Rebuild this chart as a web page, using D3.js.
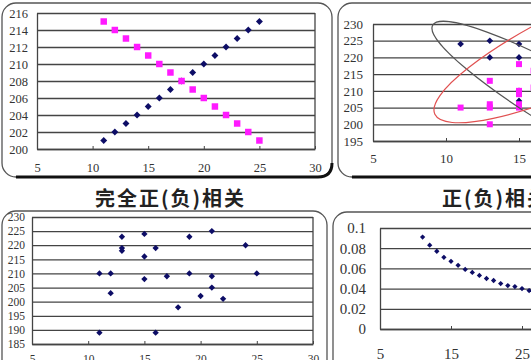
<!DOCTYPE html>
<html><head><meta charset="utf-8">
<script src="https://cdn.jsdelivr.net/npm/d3@7"></script>
<style>html,body{margin:0;padding:0;background:#fff;overflow:hidden}</style>
</head><body>
<svg id="c" width="531" height="360"></svg>
<script>
// ---------- data ----------
const perfectX   = [11,12,13,14,15,16,17,18,19,20,21,22,23,24,25];
const perfectPos = [201,202,203,204,205,206,207,208,209,210,211,212,213,214,215];
const perfectNeg = [215,214,213,212,211,210,209,208,207,206,205,204,203,202,201];
const perfectYTicks = [200,202,204,206,208,210,212,214,216];
const xTicks5 = [5,10,15,20,25,30];

const partBlueX = [11,13,13,15,15,15,15];
const partBlueY = [224,225,220,224,220,210,207];
const partPinkX = [11,13,13,13,13,15,15,15,15,15,16,16];
const partPinkY = [205,213,206,205,200,218,210,209,206,205,216,211];
const partYTicks = [195,200,205,210,215,220,225,230];
const partXTicks = [5,10,15];          // labels visible inside the cropped view

const noneX = [13,13,13,15,19,21,24,16,15,11,12,15,17,19,21,25,21,12,20,22,18,11,16];
const noneY = [223,219,218,224,223,225,220,219,216,210,210,208,209,210,209,210,205,203,202,201,198,189,189];
const noneYTicks = [185,190,195,200,205,210,215,220,225,230];

const curveX = [11,12,13,14,15,16,17,18,19,20,21,22,23,24,25,26,27,28,29,30];
const curveY = [0.091,0.083,0.077,0.071,0.067,0.063,0.059,0.056,0.053,0.050,0.048,0.045,0.043,0.042,0.040,0.038,0.037,0.036,0.034,0.033];
const curveYTicks = [0,0.02,0.04,0.06,0.08,0.1];
const curveXTicks = [5,15,25];

const titleLeft = "完全正(负)相关";
const titleRight = "正(负)相关";

// ---------- drawing ----------
const svg = d3.select("#c");
const NAVY = "#0d0d66", PINK = "#ff1aff";

function panel(x, y, w, h, r) {
  svg.append("rect").attr("x", x).attr("y", y).attr("width", w).attr("height", h)
    .attr("rx", r).attr("fill", "#fff").attr("stroke", "#555").attr("stroke-width", 1.3);
  svg.append("path")
    .attr("d", `M${x + r},${y + h} L${x + w - r},${y + h} Q${x + w},${y + h} ${x + w},${y + h - r}`)
    .attr("fill", "none").attr("stroke", "#111").attr("stroke-width", 3);
}
panel(2, 3, 330, 174, 14);
panel(338, 3, 260, 174, 14);
panel(2, 211, 325, 200, 14);
panel(333, 212, 260, 200, 14);

function chart(o) {
  const g = svg.append("g");
  const x = d3.scaleLinear().domain(o.xd).range(o.xr);
  const y = d3.scaleLinear().domain(o.yd).range(o.yr);
  const w = o.xr[1] - o.xr[0];
  const ya = g.append("g").attr("transform", `translate(${o.xr[0]},0)`)
    .call(d3.axisLeft(y).tickValues(o.yt).tickSizeInner(-w).tickSizeOuter(0)
      .tickPadding(o.ypad).tickFormat(o.yf || (d => d)));
  ya.select(".domain").attr("stroke", "#444").attr("stroke-width", 1.3);
  ya.selectAll(".tick line").attr("stroke", "#444").attr("stroke-width", 1.3);
  ya.selectAll("text").attr("font-family", "Liberation Serif").attr("font-size", o.fs)
    .attr("fill", "#333");
  g.append("line").attr("x1", o.xr[1]).attr("x2", o.xr[1]).attr("y1", o.yr[0]).attr("y2", o.yr[1])
    .attr("stroke", "#444").attr("stroke-width", 1.3);
  const xa = g.append("g").attr("transform", `translate(0,${o.yr[0]})`)
    .call(d3.axisBottom(x).tickValues(o.xt).tickSizeInner(-3).tickSizeOuter(0).tickPadding(o.xpad));
  xa.select(".domain").attr("stroke", "#444").attr("stroke-width", 1.3);
  xa.selectAll(".tick line").attr("stroke", "#444");
  xa.selectAll("text").attr("font-family", "Liberation Serif").attr("font-size", o.fs)
    .attr("fill", "#333");
  return {g, x, y};
}

function diamonds(c, xs, ys, size, color) {
  c.g.append("g").selectAll("path").data(xs).join("path")
    .attr("d", d3.symbol(d3.symbolSquare, size))
    .attr("transform", (d, i) => `translate(${c.x(d)},${c.y(ys[i])}) rotate(45)`)
    .attr("fill", color);
}
function squares(c, xs, ys, size, color) {
  c.g.append("g").selectAll("path").data(xs).join("path")
    .attr("d", d3.symbol(d3.symbolSquare, size))
    .attr("transform", (d, i) => `translate(${c.x(d)},${c.y(ys[i])})`)
    .attr("fill", color);
}

// top-left: perfect correlation
const c1 = chart({xd:[5,30], xr:[37,315], yd:[200,216], yr:[149,13], yt:perfectYTicks, xt:xTicks5,
  fs:12.5, ypad:9, xpad:14});
diamonds(c1, perfectX, perfectPos, 24, NAVY);
squares(c1, perfectX, perfectNeg, 42, PINK);

// top-right: partial correlation
const c2 = chart({xd:[5,30], xr:[373,738], yd:[195,230], yr:[141,24], yt:partYTicks, xt:partXTicks,
  fs:13, ypad:10, xpad:13});
diamonds(c2, partBlueX, partBlueY, 22, NAVY);
squares(c2, partPinkX, partPinkY, 36, PINK);
c2.g.append("ellipse").attr("cx", 0).attr("cy", 0).attr("rx", 175).attr("ry", 30)
  .attr("transform", `translate(${c2.x(19.47)},${c2.y(203.5)}) rotate(30)`)
  .attr("fill", "none").attr("stroke", "#555").attr("stroke-width", 1.2);
c2.g.append("ellipse").attr("cx", 0).attr("cy", 0).attr("rx", 175).attr("ry", 40)
  .attr("transform", `translate(${c2.x(20.1)},${c2.y(225.1)}) rotate(-25)`)
  .attr("fill", "none").attr("stroke", "#e05050").attr("stroke-width", 1.2);

// bottom-left: no correlation
const c3 = chart({xd:[5,30], xr:[32,313], yd:[185,230], yr:[344,217], yt:noneYTicks, xt:xTicks5,
  fs:11.5, ypad:7, xpad:11});
diamonds(c3, noneX, noneY, 20, NAVY);

// bottom-right: curve
const c4 = chart({xd:[5,35], xr:[380,593], yd:[0,0.1], yr:[329,228], yt:curveYTicks, xt:curveXTicks,
  fs:15, ypad:14, xpad:19, yf: d => d === 0 ? "0" : String(+d.toFixed(2))});
diamonds(c4, curveX, curveY, 14, NAVY);

// titles
svg.append("text").attr("x", 95).attr("y", 206).text(titleLeft)
  .attr("font-family", "Noto Sans CJK SC").attr("font-weight", 700).attr("font-size", 20)
  .attr("letter-spacing", 2).attr("fill", "#222");
svg.append("text").attr("x", 442).attr("y", 206).text(titleRight)
  .attr("font-family", "Noto Sans CJK SC").attr("font-weight", 700).attr("font-size", 20)
  .attr("letter-spacing", 2).attr("fill", "#222");
</script>
</body></html>
